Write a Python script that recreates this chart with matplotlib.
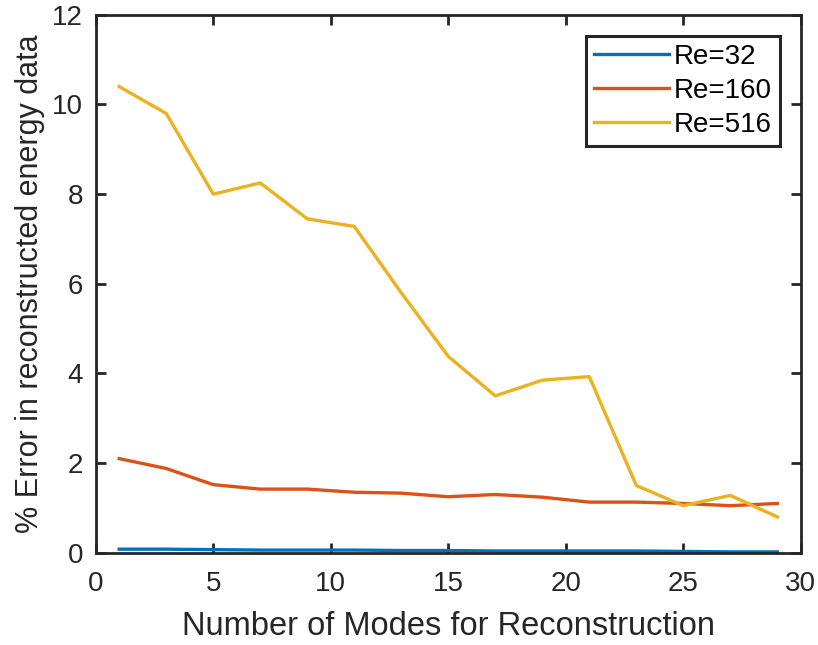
import numpy as np
import matplotlib.pyplot as plt

# modos usados na reconstrucao
modes = [1, 3, 5, 7, 9, 11, 13, 15, 17, 19, 21, 23, 25, 27, 29]

# erro (%) para cada Re
err_re32 = [0.08, 0.08, 0.07, 0.06, 0.06, 0.06, 0.05, 0.05, 0.04, 0.04, 0.04, 0.04, 0.03, 0.02, 0.02]
err_re160 = [2.1, 1.88, 1.52, 1.42, 1.42, 1.35, 1.33, 1.25, 1.3, 1.24, 1.13, 1.13, 1.1, 1.05, 1.1]
err_re516 = [10.4, 9.8, 8.0, 8.25, 7.45, 7.28, 5.8, 4.38, 3.5, 3.85, 3.93, 1.5, 1.05, 1.28, 0.8]

labels = ['Re=32', 'Re=160', 'Re=516']
colors = ['#0072BD', '#D95319', '#EDB120']

plt.rcParams['font.family'] = ['Liberation Sans', 'DejaVu Sans']

fig = plt.figure(figsize=(8.18, 6.45), dpi=100)
ax = fig.add_axes([0.117, 0.143, 0.862, 0.834])

for y, lab, c in zip([err_re32, err_re160, err_re516], labels, colors):
    ax.plot(modes, y, color=c, linewidth=2.4, label=lab)

ax.set_xlim(0, 30)
ax.set_ylim(0, 12)
ax.set_xticks(np.arange(0, 31, 5))
ax.set_yticks(np.arange(0, 13, 2))
ax.tick_params(direction='in', top=True, right=True, labelsize=20, length=7, width=2, colors='#262626')
ax.tick_params(axis='x', pad=13)
ax.tick_params(axis='y', pad=9)
for s in ax.spines.values():
    s.set_linewidth(2)
    s.set_color('#262626')
ax.set_xlabel('Number of Modes for Reconstruction', fontsize=23.5, color='#262626', labelpad=10)
ax.set_ylabel('% Error in reconstructed energy data', fontsize=22, color='#262626', labelpad=5)

leg = ax.legend(loc='upper right', fontsize=20, fancybox=False, framealpha=1,
                handlelength=2.7, handletextpad=0.15, borderpad=0.3, labelspacing=0.28,
                borderaxespad=0.75)
leg.get_frame().set_edgecolor('#262626')
leg.get_frame().set_linewidth(2.2)

fig.savefig('out.png', dpi=100)
